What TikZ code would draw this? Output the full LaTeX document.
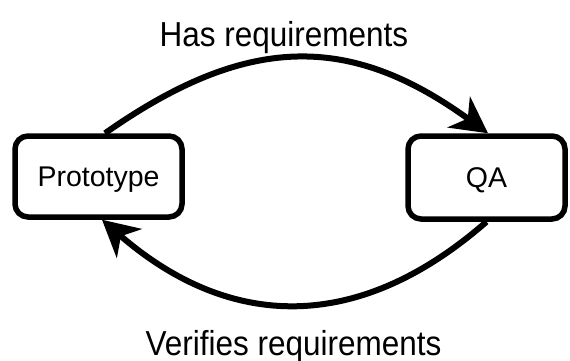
\documentclass[tikz,border=0pt]{standalone}
\usepackage{fontspec}
\setmainfont{Liberation Sans}
\usetikzlibrary{arrows.meta}
\begin{document}
\begin{tikzpicture}[x=1pt,y=-1pt,
  box/.style={draw, line width=5.5pt, rounded corners=13pt, inner sep=0pt,
    font=\fontsize{28.5}{34}\selectfont, text height=21pt, text depth=1pt},
  flow/.style={line width=6pt, -{Stealth[length=36pt,width=38pt,inset=11pt]}},
  lbl/.style={font=\fontsize{31.5}{38}\selectfont, anchor=base, inner sep=0pt}]
\useasboundingbox (0,0) rectangle (570,361);
% the two stages
\node[box, minimum width=167pt, minimum height=81pt] (proto) at (98.5,176.5) {Prototype};
\node[box, minimum width=157pt, minimum height=83pt] (qa) at (486.5,177.5) {QA};
% arcs between them
\draw[flow] ([xshift=6.5pt]proto.north) .. controls +(141,-99) and +(-139,-101) .. ([xshift=1.5pt]qa.north);
\draw[flow] (qa.south) .. controls +(-128,112) and +(128,111) .. ([xshift=3.5pt]proto.south);
% arc labels, set slightly tall
\node[lbl] (has) at (284,47) {\scalebox{1}[1.1]{Has requirements}};
\node[lbl] (ver) at (293.5,355) {\scalebox{1}[1.1]{Verifies requirements}};
\end{tikzpicture}
\end{document}
